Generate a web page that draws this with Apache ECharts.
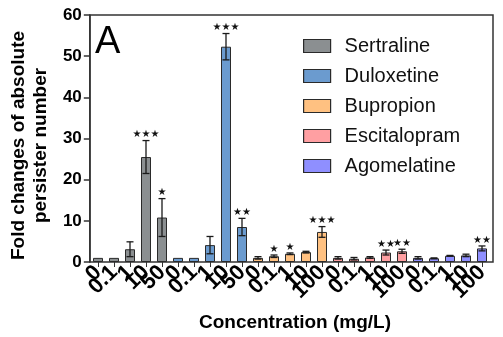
<!DOCTYPE html>
<html><head><meta charset="utf-8">
<script src="https://cdn.jsdelivr.net/npm/echarts@6/dist/echarts.min.js"></script>
<style>html,body{margin:0;padding:0;background:#fff}#c{width:503px;height:337px}</style>
</head><body><div id="c"></div>
<script>
const drugs = ['Sertraline','Duloxetine','Bupropion','Escitalopram','Agomelatine'];
const concLabels = [
  ['0','0.1','1','10','50'],
  ['0','0.1','1','10','50'],
  ['0','0.1','1','10','100'],
  ['0','0.1','1','10','100'],
  ['0','0.1','1','10','100']
];
const sertralineMean   = [1.0, 1.0, 3.1, 25.5, 10.8];
const sertralineErr    = [0,   0,   1.8, 4.0,  4.6];
const duloxetineMean   = [1.0, 1.0, 4.1, 52.3, 8.5];
const duloxetineErr    = [0,   0,   2.1, 3.2,  2.1];
const bupropionMean    = [1.0, 1.4, 2.0, 2.4, 7.3];
const bupropionErr     = [0.3, 0.3, 0.2, 0.2, 1.3];
const escitalopramMean = [1.0, 0.8, 1.1, 2.3, 2.6];
const escitalopramErr  = [0.3, 0.3, 0.2, 0.6, 0.5];
const agomelatineMean  = [1.0, 0.9, 1.5, 1.6, 3.3];
const agomelatineErr   = [0.3, 0.1, 0.1, 0.3, 0.6];
const sertralineSig   = ['', '', '', '★★★', '★'];
const duloxetineSig   = ['', '', '', '★★★', '★★'];
const bupropionSig    = ['', '★', '★', '', '★★★'];
const escitalopramSig = ['', '', '', '★★', '★★'];
const agomelatineSig  = ['', '', '', '', '★★'];

const means = [sertralineMean, duloxetineMean, bupropionMean, escitalopramMean, agomelatineMean];
const errs = [sertralineErr, duloxetineErr, bupropionErr, escitalopramErr, agomelatineErr];
const sigs = [sertralineSig, duloxetineSig, bupropionSig, escitalopramSig, agomelatineSig];
const colors = ['#8b8f91', '#6b9bcf', '#ffc181', '#ff9fa2', '#8f8fff'];

const FONT = 'Liberation Sans, Arial, sans-serif';
const categories = [], tickLabels = [], errData = [];
drugs.forEach((d, g) => {
  concLabels[g].forEach((c, i) => {
    categories.push(d + '_' + c);
    tickLabels.push(c);
    errData.push([g * 5 + i, means[g][i], errs[g][i], sigs[g][i]]);
  });
});
const N = categories.length;

const barSeries = drugs.map((d, g) => {
  const data = new Array(N).fill('-');
  means[g].forEach((v, i) => { data[g * 5 + i] = v; });
  return {
    name: d, type: 'bar', xAxisIndex: 0, yAxisIndex: 0, data,
    barWidth: 10, barGap: '-100%',
    itemStyle: { color: colors[g], borderColor: '#2a2a2a', borderWidth: 1 },
    z: 2
  };
});

const chart = echarts.init(document.getElementById('c'), null, { renderer: 'canvas' });
chart.setOption({
  animation: false,
  textStyle: { fontFamily: FONT },
  title: {
    text: 'A', left: 90, top: 19,
    textStyle: { fontFamily: FONT, fontSize: 38, fontWeight: 'normal', color: '#000' }
  },
  legend: {
    orient: 'vertical', left: 298, top: 31, itemGap: 10,
    itemWidth: 27, itemHeight: 13, icon: 'rect',
    itemStyle: { borderColor: '#2a2a2a', borderWidth: 1.2 },
    textStyle: { fontFamily: FONT, fontSize: 20, color: '#111', padding: [0, 0, 0, 9] },
    data: drugs
  },
  grid: [
    { left: 90, right: 13, top: 15, bottom: 75 },
    { left: 87, right: 10, top: 15, bottom: 75, show: true, borderColor: '#333', borderWidth: 1.5, backgroundColor: 'transparent' }
  ],
  xAxis: [
    {
      type: 'category', gridIndex: 0, data: categories,
      axisLine: { show: false },
      axisTick: { show: true, alignWithLabel: true, length: 5, lineStyle: { color: '#333', width: 1 } },
      axisLabel: {
        interval: 0, rotate: 45, margin: 7,
        fontFamily: FONT, fontSize: 22, fontWeight: 'bold', color: '#000',
        formatter: (v, i) => tickLabels[i]
      },
      name: 'Concentration (mg/L)', nameLocation: 'middle', nameGap: 51,
      nameTextStyle: { fontFamily: FONT, fontSize: 19, fontWeight: 'bold', color: '#000', padding: [0, 0, 0, 10] }
    },
    { type: 'value', gridIndex: 1, show: false, min: 0, max: 1 }
  ],
  yAxis: [
    { type: 'value', gridIndex: 0, min: 0, max: 60, interval: 10, show: false },
    {
      type: 'value', gridIndex: 1, min: 0, max: 60, interval: 10,
      axisLine: { show: true, lineStyle: { color: '#333', width: 1.5 } },
      axisTick: { show: true, length: 6, lineStyle: { color: '#333', width: 1.5 } },
      axisLabel: { margin: 8, fontFamily: FONT, fontSize: 17, fontWeight: 'bold', color: '#000' },
      splitLine: { show: false },
      name: 'Fold changes of absolute\npersister number', nameLocation: 'middle', nameGap: 22,
      nameTextStyle: { fontFamily: FONT, fontSize: 19, fontWeight: 'bold', color: '#000', lineHeight: 22, padding: [0, 14, 0, 0] }
    }
  ],
  series: barSeries.concat([{
    type: 'custom', xAxisIndex: 0, yAxisIndex: 0, data: errData, z: 5,
    renderItem: (params, api) => {
      const x = api.value(0), m = api.value(1), e = api.value(2);
      const s = errData[params.dataIndex][3];
      const top = api.coord([x, m + e]);
      const bot = api.coord([x, m - e]);
      const cw = 3.5;
      const st = { stroke: '#1a1a1a', lineWidth: 1.3 };
      const children = [];
      if (e > 0) {
        children.push({ type: 'line', shape: { x1: top[0], y1: top[1], x2: bot[0], y2: bot[1] }, style: st });
        children.push({ type: 'line', shape: { x1: top[0] - cw, y1: top[1], x2: top[0] + cw, y2: top[1] }, style: st });
        children.push({ type: 'line', shape: { x1: bot[0] - cw, y1: bot[1], x2: bot[0] + cw, y2: bot[1] }, style: st });
      }
      if (s) {
        children.push({ type: 'text', x: top[0], y: top[1] - 1,
          style: { text: s, fill: '#111', font: '10px DejaVu Sans', textAlign: 'center', textVerticalAlign: 'bottom' } });
      }
      return { type: 'group', children };
    }
  }])
});
</script></body></html>
